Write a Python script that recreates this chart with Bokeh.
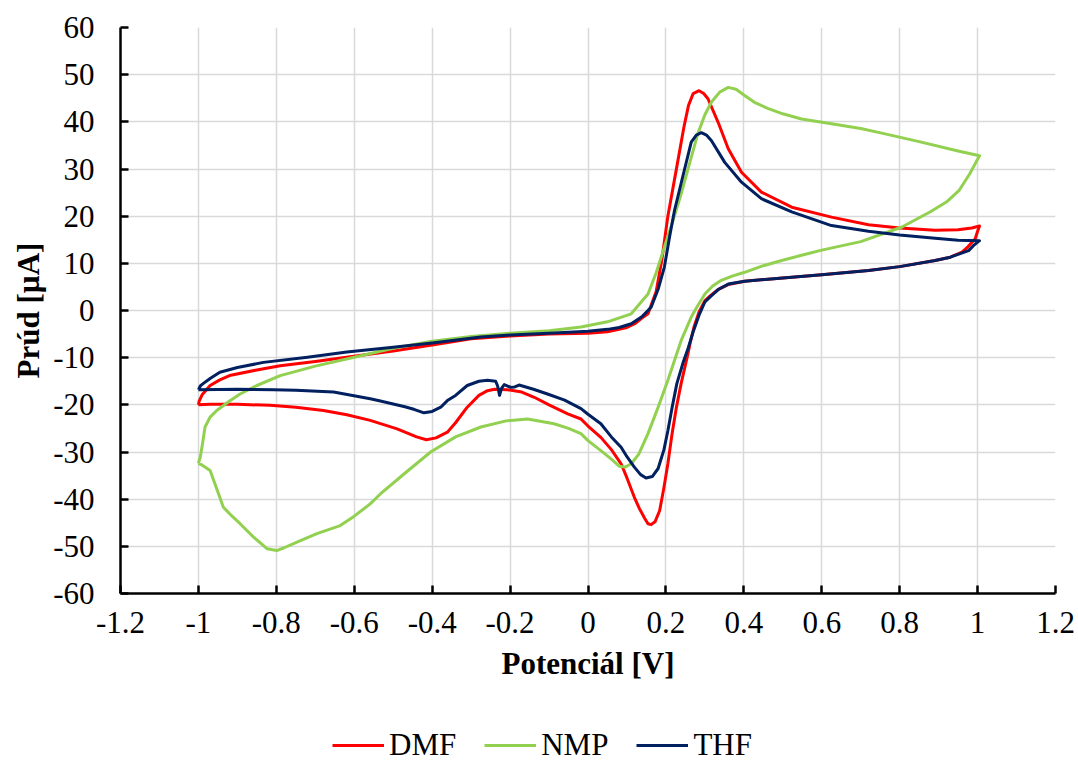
from bokeh.plotting import figure
from bokeh.layouts import column
from bokeh.models import Range1d, FixedTicker, Legend, LegendItem
from bokeh.embed import file_html
from bokeh.resources import INLINE

# ---- data (potential [V], current [uA]); each loop: forward scan then reverse scan ----
dmf_x = [-1.0, -0.998, -0.99, -0.97, -0.945, -0.92, -0.85, -0.79, -0.7, -0.62, -0.5, -0.4, -0.3,
         -0.2, -0.1, 0.0, 0.05, 0.08, 0.1, 0.12, 0.14, 0.154, 0.175, 0.19, 0.205, 0.228, 0.246,
         0.258, 0.27, 0.285, 0.297, 0.308, 0.334, 0.36, 0.394, 0.445, 0.523, 0.625, 0.72, 0.8,
         0.891, 0.95, 0.985, 1.005,
         1.0, 0.994, 0.975, 0.96, 0.93, 0.891, 0.8, 0.72, 0.6, 0.5, 0.402, 0.36, 0.335, 0.315,
         0.3, 0.285, 0.272, 0.262, 0.257, 0.239, 0.227, 0.216, 0.205, 0.195, 0.184, 0.172,
         0.162, 0.154, 0.145, 0.132, 0.119, 0.1, 0.085, 0.06, 0.033, 0.0, -0.018, -0.052, -0.1,
         -0.138, -0.17, -0.207, -0.24, -0.258, -0.28, -0.31, -0.34, -0.361, -0.39, -0.415,
         -0.44, -0.49, -0.559, -0.619, -0.679, -0.75, -0.816, -0.9, -0.97, -1.0]
dmf_y = [-20.0, -19.2, -17.8, -15.9, -14.7, -13.8, -12.6, -11.7, -10.8, -9.9, -8.6, -7.3, -6.0,
         -5.4, -5.0, -4.8, -4.5, -4.0, -3.6, -2.8, -1.5, -0.7, 4.0, 11.0, 20.0, 30.5, 38.8,
         43.5, 46.0, 46.6, 46.0, 44.9, 39.9, 34.3, 29.3, 25.1, 21.9, 19.8, 18.2, 17.5,
         17.0, 17.1, 17.5, 17.9,
         16.8, 15.2, 13.5, 12.4, 11.3, 10.6, 9.3, 8.5, 7.6, 6.9, 6.2, 5.5, 4.5, 3.2,
         2.1, -0.3, -3.5, -7.0, -9.0, -15.5, -20.5, -26.0, -32.5, -37.5, -42.4, -44.8,
         -45.4, -45.2, -44.0, -42.0, -39.6, -35.5, -32.5, -29.5, -26.9, -24.5, -23.0, -21.9, -20.0,
         -18.4, -17.3, -16.8, -16.7, -17.0, -18.0, -20.5, -23.8, -25.8, -27.0, -27.4,
         -26.8, -25.1, -23.3, -22.1, -21.2, -20.5, -20.1, -19.9, -19.9, -20.0]

nmp_x = [-1.0, -0.995, -0.99, -0.983, -0.97, -0.953, -0.92, -0.893, -0.85, -0.79, -0.7, -0.6,
         -0.5, -0.4, -0.3, -0.2, -0.1, -0.018, 0.05, 0.09, 0.111, 0.154, 0.175, 0.196, 0.218,
         0.239, 0.26, 0.282, 0.3, 0.317, 0.338, 0.36, 0.38, 0.402, 0.43, 0.463, 0.5, 0.548, 0.625,
         0.7, 0.754, 0.85, 0.95, 1.005,
         0.995, 0.98, 0.952, 0.92, 0.88, 0.806, 0.7, 0.6, 0.548, 0.497, 0.45, 0.402, 0.37, 0.342,
         0.32, 0.3, 0.28, 0.265, 0.239, 0.222, 0.205, 0.18, 0.154, 0.13, 0.111, 0.095, 0.08, 0.06,
         0.033, 0.0, -0.018, -0.05, -0.087, -0.155, -0.21, -0.275, -0.34, -0.404, -0.47, -0.533,
         -0.559, -0.6, -0.636, -0.696, -0.747, -0.78, -0.799, -0.824, -0.859, -0.893, -0.915,
         -0.936, -0.95, -0.97, -0.99, -1.0]
nmp_y = [-32.4, -31.0, -28.5, -24.7, -22.6, -21.2, -19.2, -17.7, -15.9, -13.8, -11.8, -9.9,
         -8.0, -6.5, -5.5, -4.8, -4.3, -3.5, -2.4, -1.3, -0.7, 3.5, 8.0, 13.4, 19.0,
         24.7, 31.0, 37.5, 41.5, 44.2, 46.3, 47.3, 46.9, 45.6, 44.0, 42.8, 41.7, 40.6, 39.6,
         38.6, 37.6, 35.8, 33.8, 32.8,
         31.3, 29.0, 25.4, 23.0, 21.0, 17.7, 14.6, 12.8, 11.7, 10.6, 9.5, 8.1, 7.3, 6.4,
         5.2, 3.5, 0.8, -1.4, -6.4, -10.6, -14.8, -20.5, -26.1, -30.5, -32.5, -33.2, -33.0, -31.5,
         -29.7, -27.6, -26.1, -25.0, -24.0, -23.0, -23.4, -24.7, -26.8, -30.0, -34.5, -38.9,
         -41.0, -43.6, -45.6, -47.3, -49.1, -50.3, -50.9, -50.5, -48.0, -45.2, -43.5,
         -41.7, -38.5, -33.9, -32.8, -32.4]

thf_x = [-1.0, -0.995, -0.988, -0.97, -0.945, -0.9, -0.833, -0.72, -0.619, -0.5, -0.4, -0.275,
         -0.2, -0.1, 0.0, 0.05, 0.08, 0.111, 0.14, 0.162, 0.18, 0.196, 0.21, 0.222, 0.248, 0.265,
         0.278, 0.291, 0.304, 0.317, 0.351, 0.394, 0.445, 0.523, 0.625, 0.72, 0.8, 0.891, 0.95,
         1.005,
         0.99, 0.977, 0.95, 0.93, 0.891, 0.8, 0.72, 0.6, 0.5, 0.402, 0.36, 0.335, 0.315, 0.3,
         0.285, 0.27, 0.257, 0.245, 0.228, 0.216, 0.205, 0.195, 0.18, 0.165, 0.149, 0.135,
         0.119, 0.1, 0.085, 0.06, 0.033, 0.0, -0.018, -0.06, -0.104, -0.14, -0.177, -0.188,
         -0.198, -0.215, -0.222, -0.227, -0.232, -0.237, -0.258, -0.28, -0.31, -0.34, -0.361,
         -0.378, -0.4, -0.421, -0.445, -0.47, -0.533, -0.559, -0.653, -0.75, -0.807, -0.9, -1.0]
thf_y = [-16.8, -16.0, -15.5, -14.4, -13.1, -12.1, -11.0, -9.9, -8.8, -7.8, -6.9, -5.6,
         -5.2, -4.8, -4.4, -4.0, -3.6, -2.8, -1.2, 0.7, 4.5, 9.2, 15.9, 21.2, 30.0, 35.7,
         37.2, 37.7, 37.2, 36.0, 31.4, 27.2, 23.7, 20.9, 18.0, 16.8, 16.0, 15.3, 14.9,
         14.8,
         13.8, 12.7, 11.9, 11.3, 10.6, 9.3, 8.5, 7.6, 6.9, 6.2, 5.6, 4.5, 3.0, 1.8,
         -1.0, -4.5, -8.0, -10.8, -15.5, -20.5, -25.5, -29.5, -33.5, -35.2, -35.5, -34.8,
         -33.2, -31.0, -29.0, -26.8, -24.0, -22.0, -20.8, -19.0, -17.7, -16.7, -15.8, -16.2,
         -16.3, -15.7, -16.5, -18.0, -16.0, -15.0, -14.8, -15.0, -15.9, -18.0, -19.1,
         -20.5, -21.4, -21.7, -21.0, -20.4, -19.2, -18.7, -17.3, -16.9, -16.8, -16.7, -16.8]

series_names = ["DMF", "NMP", "THF"]
series_colors = ["#FF0000", "#92D050", "#002060"]

x_ticks = [-1.2, -1.0, -0.8, -0.6, -0.4, -0.2, 0.0, 0.2, 0.4, 0.6, 0.8, 1.0, 1.2]
x_tick_labels = ["-1.2", "-1", "-0.8", "-0.6", "-0.4", "-0.2", "0", "0.2", "0.4", "0.6", "0.8", "1", "1.2"]
y_ticks = [-60, -50, -40, -30, -20, -10, 0, 10, 20, 30, 40, 50, 60]
y_tick_labels = ["-60", "-50", "-40", "-30", "-20", "-10", "0", "10", "20", "30", "40", "50", "60"]

x_title = "Potenciál [V]"
y_title = "Prúd [µA]"

FONT = "Liberation Serif"
FS = "31px"

p = figure(width=1078, height=700, output_backend="svg", toolbar_location=None,
           x_range=Range1d(-1.2, 1.2), y_range=Range1d(-60, 60),
           min_border_left=120, min_border_right=23, min_border_top=27, min_border_bottom=107)
p.outline_line_color = None
p.background_fill_color = "white"
p.border_fill_color = "white"

for ax in (p.xaxis[0], p.yaxis[0]):
    ax.axis_line_color = "black"
    ax.axis_line_width = 2.5
    ax.major_tick_line_color = "black"
    ax.major_tick_line_width = 2.5
    ax.major_tick_in = 8
    ax.major_tick_out = 0
    ax.minor_tick_line_color = None
    ax.major_label_text_font = FONT
    ax.major_label_text_font_size = FS
    ax.major_label_text_color = "black"
    ax.axis_label_text_font = FONT
    ax.axis_label_text_font_size = FS
    ax.axis_label_text_font_style = "bold"
    ax.axis_label_text_color = "black"

p.xaxis[0].ticker = FixedTicker(ticks=x_ticks)
p.xaxis[0].major_label_overrides = {t: l for t, l in zip(x_ticks, x_tick_labels)}
p.yaxis[0].ticker = FixedTicker(ticks=y_ticks)
p.yaxis[0].major_label_overrides = {t: l for t, l in zip(y_ticks, y_tick_labels)}
p.xaxis[0].axis_label = x_title
p.yaxis[0].axis_label = y_title
p.xaxis[0].major_label_standoff = 18
p.yaxis[0].major_label_standoff = 26
p.xaxis[0].axis_label_standoff = 10
p.yaxis[0].axis_label_standoff = 4

for g in (p.xgrid[0], p.ygrid[0]):
    g.grid_line_color = "#D9D9D9"
    g.grid_line_width = 1.5
p.xgrid[0].ticker = FixedTicker(ticks=x_ticks)
p.ygrid[0].ticker = FixedTicker(ticks=y_ticks)

all_x = [dmf_x, nmp_x, thf_x]
all_y = [dmf_y, nmp_y, thf_y]
for xs, ys, c in zip(all_x, all_y, series_colors):
    p.line(xs, ys, line_color=c, line_width=3, line_join="round")

# ---- legend strip below the chart (key renderers lie outside its visible range) ----
lg = figure(width=1078, height=63, output_backend="svg", toolbar_location=None,
            x_range=Range1d(-1.2, 1.2), y_range=Range1d(200, 201),
            min_border_left=0, min_border_right=0, min_border_top=0, min_border_bottom=0)
lg.axis.visible = False
lg.grid.visible = False
lg.outline_line_color = None
lg.background_fill_color = "white"
lg.border_fill_color = "white"
keys = [lg.line(xs, ys, line_color=c, line_width=3) for xs, ys, c in zip(all_x, all_y, series_colors)]

legend = Legend(items=[LegendItem(label=n, renderers=[r]) for n, r in zip(series_names, keys)],
                orientation="horizontal", location=(212, 0),
                label_text_font=FONT, label_text_font_size=FS, label_text_color="black",
                glyph_width=52, glyph_height=20, label_standoff=5, spacing=28,
                padding=0, margin=0, border_line_color=None, background_fill_alpha=0)
lg.add_layout(legend, "center")

layout = column(p, lg, spacing=0)
open("out.html", "w").write(file_html(layout, INLINE))
